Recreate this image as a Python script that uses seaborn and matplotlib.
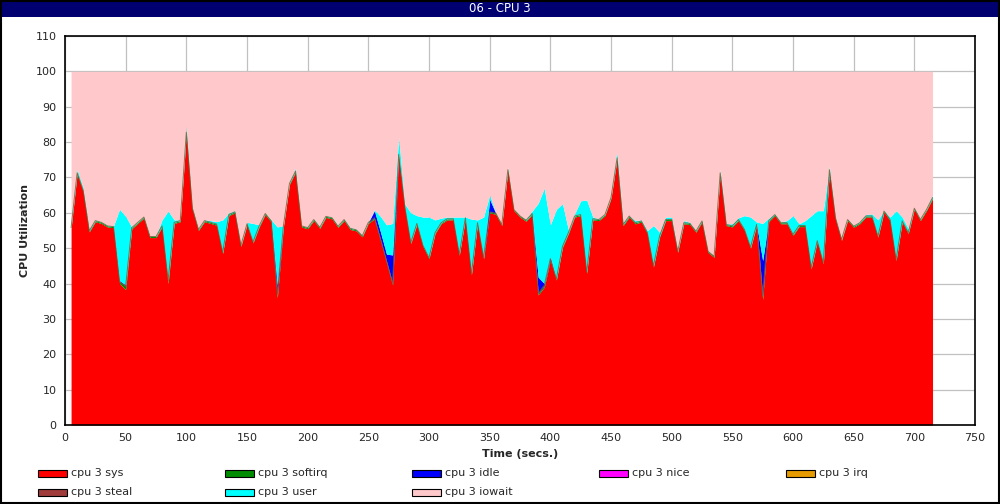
import numpy as np
import pandas as pd
import seaborn as sns
import matplotlib
matplotlib.use("Agg")
import matplotlib.pyplot as plt
from matplotlib.patches import Rectangle

# ---------------- data ----------------
time_s = np.arange(5, 716, 5)

cpu_sys = [
    55.5, 71, 66, 54.6, 57.5, 57, 56, 55.8, 40, 38.3,
    55.5, 57, 58.5, 53, 53, 56, 40, 57, 57.5, 82.5,
    61, 55, 57.5, 57, 56.5, 48.5, 59.2, 60, 50.5, 56.6,
    51.5, 56, 59.5, 57.4, 36, 56, 68, 71.5, 56, 55.5,
    57.8, 55.6, 58.7, 58.3, 55.9, 57.8, 55.3, 54.9, 53.2, 57,
    58.3, 52.3, 46, 39.6, 76.2, 61.6, 51.3, 56.7, 50.5, 47,
    54.1, 56.9, 58, 58, 48, 58.3, 42.5, 56.9, 47, 60,
    59.6, 56.4, 71.9, 60.6, 58.8, 57.6, 59.5, 36.8, 39, 46.7,
    41, 50.2, 54.2, 58.8, 59.2, 42.9, 58, 57.8, 59.2, 64,
    75.2, 56.4, 58.8, 56.9, 57.4, 54.1, 44.7, 53.1, 57.8, 57.8,
    48.8, 56.9, 56.7, 54.5, 57.4, 48.8, 47.4, 71, 56.4, 56,
    57.8, 55, 50, 56.4, 35.5, 57.5, 59.2, 56.9, 56.9, 53.6,
    56.1, 56.1, 44.2, 51.8, 45.6, 71.9, 58.3, 52.2, 57.8, 55.9,
    56.9, 58.8, 58.8, 53.1, 60.2, 57.8, 46.5, 57.4, 54.1, 61,
    57.8, 60.6, 64,
]

cpu_softirq = [
    .3, .3, .3, .3, .3, .3, .3, .3, .5, 1,
    .3, .3, .3, .3, .3, .3, 1, .3, .3, .3,
    .3, .3, .3, .3, .3, .3, .3, .3, .3, .3,
    .3, .3, .3, .3, 1, .3, .3, .3, .3, .3,
    .3, .3, .3, .3, .3, .3, .3, .3, .3, .3,
    .3, .3, .3, .5, .3, .3, .3, .3, .3, .3,
    .3, .3, .3, .3, .3, .3, .3, .3, .3, .3,
    .3, .3, .3, .3, .3, .3, .3, .5, .5, .3,
    .3, .3, .3, .3, .3, .3, .3, .3, .3, .3,
    .3, .3, .3, .3, .3, .3, .3, .3, .3, .3,
    .3, .3, .3, .3, .3, .3, .3, .3, .3, .3,
    .3, .3, .3, .3, 1, .3, .3, .3, .3, .3,
    .3, .3, .3, .3, .3, .3, .3, .3, .3, .3,
    .3, .3, .3, .3, .3, .3, .3, .3, .3, .3,
    .3, .3, .3,
]

cpu_idle = [
    0, 0, 0, 0, 0, 0, 0, 0, .3, .3,
    0, 0, 0, 0, 0, 0, 0, 0, 0, 0,
    0, 0, 0, 0, 0, 0, 0, 0, 0, 0,
    0, 0, 0, 0, 2.5, 0, 0, 0, 0, 0,
    0, 0, 0, 0, 0, 0, 0, 0, 0, 0,
    2, 2, 2, 8, 0, 0, 0, 0, 0, 0,
    0, 0, 0, 0, 0, 0, 0, 0, 0, 3.5,
    0, 0, 0, 0, 0, 0, 0, 4.5, .5, .5,
    0, 0, 0, 0, 0, 0, 0, 0, 0, 0,
    0, 0, 0, 0, 0, 0, 0, 0, 0, 0,
    0, 0, 0, 0, 0, 0, 0, 0, 0, 0,
    0, 0, 0, 0, 10, 0, 0, 0, 0, 0,
    0, 0, 0, 0, 0, 0, 0, 0, 0, 0,
    0, 0, 0, 0, 0, 0, 0, 0, 0, 0,
    0, 0, 0,
]

cpu_nice = [0.0] * 143
cpu_irq = [0.0] * 143
cpu_steal = [0.0] * 143

cpu_user = [
    1.2, 1.0, 0.7, 0.6, 0.2, 0.2, 0.2, 0.2, 20.2, 19.4,
    0.2, 0.2, 0.2, 0.2, 0.2, 1.7, 19.5, 0.7, 0.2, 1.7,
    0.3, 0.2, 0.2, 0.5, 0.7, 9.2, 0.5, 0.3, 0.2, 0.4,
    5.2, 0.3, 0.2, 0.3, 16.5, 0.1, 0.3, 0.8, 0.1, 0.2,
    0.2, 0.2, 0.2, 0.2, 0.2, 0.2, 0.3, 0.2, 0.2, 0.1,
    0.2, 4.4, 8.3, 8.9, 4.8, 0.6, 8.4, 2.2, 8.0, 11.5,
    3.6, 1.3, 0.5, 0.5, 10.5, 0.2, 15.4, 0.8, 11.5, 1.2,
    0.1, 0.2, 0.7, 0.1, 0.1, 0.3, 0.7, 20.9, 27, 9.1,
    19.7, 12.1, 0.5, 0.6, 3.9, 20.4, 0.5, 0.2, 0.2, 0.1,
    1.6, 0.7, 0.1, 0.6, 0.3, 0.6, 11.4, 1.1, 0.7, 0.7,
    0.4, 0.6, 0.3, 0.2, 0.3, 0.2, 0.2, 1.1, 0.2, 0.6,
    0.5, 3.9, 8.5, 0.7, 10.5, 0.7, 0.2, 0.2, 0.6, 5.3,
    0.5, 1.4, 14.7, 8.5, 14.7, 1.1, 0.2, 0.2, 0.2, 0.2,
    0.3, 0.4, 0.6, 4.6, 0.1, 0.7, 13.8, 1.1, 1.1, 0.1,
    0.2, 0.2, 0.7,
]

cpu_iowait = [
    43, 27.7, 33, 44.5, 42, 42.5, 43.5, 43.7, 39, 41,
    44, 42.5, 41, 46.5, 46.5, 42, 39.5, 42, 42, 15.5,
    38.4, 44.5, 42, 42.2, 42.5, 42, 40, 39.4, 49, 42.7,
    43, 43.4, 40, 42, 44, 43.6, 31.4, 27.4, 43.6, 44,
    41.7, 43.9, 40.8, 41.2, 43.6, 41.7, 44.1, 44.6, 46.3, 42.6,
    39.2, 41, 43.4, 43, 18.7, 37.5, 40, 40.8, 41.2, 41.2,
    42, 41.5, 41.2, 41.2, 41.2, 41.2, 41.8, 42, 41.2, 35,
    40, 43.1, 27.1, 39, 40.8, 41.8, 39.5, 37.3, 33, 43.4,
    39, 37.4, 45, 40.3, 36.6, 36.4, 41.2, 41.7, 40.3, 35.6,
    22.9, 42.6, 40.8, 42.2, 42, 45, 43.6, 45.5, 41.2, 41.2,
    50.5, 42.2, 42.7, 45, 42, 50.7, 52.1, 27.6, 43.1, 43.1,
    41.4, 40.8, 41.2, 42.6, 43, 41.5, 40.3, 42.6, 42.2, 40.8,
    43.1, 42.2, 40.8, 39.4, 39.4, 26.7, 41.2, 47.3, 41.7, 43.6,
    42.5, 40.5, 40.3, 42, 39.4, 41.2, 39.4, 41.2, 44.5, 38.6,
    41.7, 38.9, 35,
]

series_names = ["cpu 3 sys", "cpu 3 softirq", "cpu 3 idle", "cpu 3 nice",
                "cpu 3 irq", "cpu 3 steal", "cpu 3 user", "cpu 3 iowait"]
series_colors = ["#FF0000", "#008C00", "#0000FF", "#FF00FF",
                 "#E69C00", "#A03C3C", "#00FFFF", "#FFC8CB"]

df = pd.DataFrame({
    "time": time_s,
    "cpu 3 sys": cpu_sys,
    "cpu 3 softirq": cpu_softirq,
    "cpu 3 idle": cpu_idle,
    "cpu 3 nice": cpu_nice,
    "cpu 3 irq": cpu_irq,
    "cpu 3 steal": cpu_steal,
    "cpu 3 user": cpu_user,
    "cpu 3 iowait": cpu_iowait,
})

# ---------------- plot ----------------
sns.set_style("white")
plt.rcParams["font.family"] = ["DejaVu Sans"]

W, H = 1000, 504
fig = plt.figure(figsize=(W / 100, H / 100), dpi=100)
fig.patch.set_facecolor("white")

left, right, top, bottom = 65, 975, 36, 425
ax = fig.add_axes([left / W, 1 - bottom / H, (right - left) / W, (bottom - top) / H])

ax.stackplot(df["time"], [df[c] for c in series_names],
             colors=series_colors, linewidth=0, antialiased=True, zorder=2)

# thin darker edge along the top of sys+softirq (as in the original rendering)
edge = pd.DataFrame({"time": df["time"],
                     "v": df["cpu 3 sys"] + df["cpu 3 softirq"]})
sns.lineplot(data=edge, x="time", y="v", ax=ax, color="#7A5A30",
             linewidth=0.7, alpha=0.8, zorder=3, legend=False)

ax.set_xlim(0, 750)
ax.set_ylim(0, 110)
ax.set_xticks(np.arange(0, 751, 50))
ax.set_yticks(np.arange(0, 111, 10))
ax.grid(True, color="#C0C0C0", linewidth=0.9)
ax.set_axisbelow(True)
for s in ax.spines.values():
    s.set_visible(True)
    s.set_color("black")
    s.set_linewidth(1.2)
ax.tick_params(axis="both", direction="out", length=4, width=1, color="black",
               labelsize=8, pad=2)
ax.set_xlabel("Time (secs.)", fontsize=8, fontweight="bold", labelpad=4)
ax.set_ylabel("CPU Utilization", fontsize=8, fontweight="bold")
ax.yaxis.set_label_coords((30 - left) / (right - left), 0.5)

# title bar
fig.add_artist(Rectangle((0, 1 - 17 / H), 1, 17 / H, transform=fig.transFigure,
                         facecolor="#000070", edgecolor="none", zorder=5))
fig.text(0.5, 1 - 8.5 / H, "06 - CPU 3", color="white", ha="center", va="center",
         fontsize=8.5, zorder=6)

# legend (row-major grid like the original)
for i, (name, col) in enumerate(zip(series_names, series_colors)):
    r, c = divmod(i, 5)
    px = 38 + c * 187
    py = 473 + r * 19
    fig.add_artist(Rectangle((px / W, 1 - (py + 3.5) / H), 29 / W, 7 / H,
                             transform=fig.transFigure, facecolor=col,
                             edgecolor="black", linewidth=0.8))
    fig.text((px + 33) / W, 1 - py / H, name, ha="left", va="center", fontsize=8)

# outer frame
fig.add_artist(Rectangle((0.001, 0.001), 0.998, 0.998, transform=fig.transFigure,
                         fill=False, edgecolor="black", linewidth=1.5, zorder=10))

fig.savefig("out.png", dpi=100)
